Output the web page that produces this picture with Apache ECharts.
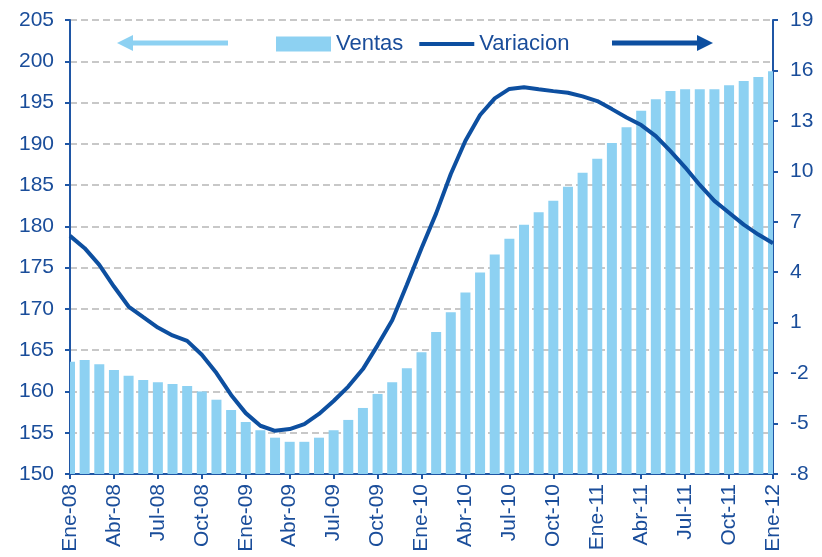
<!DOCTYPE html>
<html>
<head>
<meta charset="utf-8">
<script src="https://cdn.jsdelivr.net/npm/echarts@6/dist/echarts.min.js"></script>
<style>
html,body{margin:0;padding:0;background:#fff;}
#chart{width:822px;height:557px;}
</style>
</head>
<body>
<div id="chart"></div>
<script>
// ---- data ----
const monthNames = ['Ene','Feb','Mar','Abr','May','Jun','Jul','Ago','Sep','Oct','Nov','Dic'];
const years = ['08','09','10','11','12'];
const ventas = [163.6, 163.8, 163.3, 162.6, 161.9, 161.4, 161.1, 160.9, 160.65, 160.0,
  159.0, 157.75, 156.3, 155.3, 154.4, 153.9, 153.9, 154.4, 155.3, 156.55,
  158.0, 159.7, 161.1, 162.8, 164.75, 167.2, 169.6, 172.0, 174.4, 176.6,
  178.5, 180.2, 181.7, 183.1, 184.8, 186.5, 188.2, 190.1, 192.0, 194.0,
  195.4, 196.4, 196.6, 196.6, 196.6, 197.1, 197.6, 198.1, 198.8];
const variacion = [6.16, 5.43, 4.44, 3.15, 1.96, 1.33, 0.71, 0.24, -0.08, -0.91,
  -2.0, -3.3, -4.38, -5.13, -5.43, -5.33, -5.03, -4.43, -3.66, -2.8,
  -1.76, -0.35, 1.15, 3.25, 5.43, 7.5, 9.84, 11.82, 13.35, 14.34,
  14.9, 15.0, 14.88, 14.77, 14.67, 14.46, 14.18, 13.7, 13.2, 12.75,
  12.1, 11.2, 10.24, 9.19, 8.24, 7.54, 6.83, 6.24, 5.72];
const rightTicks = [-8, -5, -2, 1, 4, 7, 10, 13, 16, 19];

const categories = [];
for (let y = 0; y < years.length; y++) {
  for (let m = 0; m < 12; m++) {
    if (categories.length < ventas.length) categories.push(monthNames[m] + '-' + years[y]);
  }
}

const axisBlue = '#1F56A5';
const textBlue = '#1A4D9A';
const barColor = '#8DD1F2';
const lineColor = '#0D4FA0';
const font = "'Liberation Sans', Arial, sans-serif";
const LEFT_MIN = 150;

const chart = echarts.init(document.getElementById('chart'));
chart.setOption({
  animation: false,
  backgroundColor: '#fff',
  textStyle: { fontFamily: font },
  grid: { left: 70, right: 49, top: 20, bottom: 83, containLabel: false },
  legend: {
    left: 271,
    top: 28,
    itemWidth: 55,
    itemHeight: 15,
    itemGap: 16,
    textStyle: { color: textBlue, fontSize: 22, fontFamily: font },
    data: [
      { name: 'Ventas', icon: 'rect', itemStyle: { color: barColor } },
      { name: 'Variacion', icon: 'path://M0,0 H55 V4 H0 Z', itemStyle: { color: lineColor } }
    ]
  },
  xAxis: {
    type: 'category',
    data: categories,
    boundaryGap: false,
    axisLine: { onZero: false, lineStyle: { color: axisBlue, width: 2 } },
    axisTick: { show: true, interval: 2, length: 5, lineStyle: { color: axisBlue, width: 2 } },
    axisLabel: { interval: 2, rotate: 90, margin: 10, color: textBlue, fontSize: 21, fontFamily: font },
    splitLine: { show: false }
  },
  yAxis: [
    {
      type: 'value', min: LEFT_MIN, max: 205, interval: 5,
      axisLine: { show: true, lineStyle: { color: axisBlue, width: 2 } },
      axisTick: { show: true, length: 5, lineStyle: { color: axisBlue, width: 2 } },
      axisLabel: { color: textBlue, fontSize: 21, margin: 16, fontFamily: font },
      splitLine: { show: true, lineStyle: { color: '#C8C8C8', type: [7, 4], width: 2 } }
    },
    {
      type: 'value', min: -8, max: 19, position: 'right',
      axisLine: { show: true, lineStyle: { color: axisBlue, width: 2 } },
      axisTick: { show: true, length: 5, customValues: rightTicks, lineStyle: { color: axisBlue, width: 2 } },
      axisLabel: { color: textBlue, fontSize: 21, margin: 17, fontFamily: font, customValues: rightTicks },
      splitLine: { show: false }
    }
  ],
  graphic: [
    { type: 'polyline', shape: { points: [[130, 43], [228, 43]] }, style: { stroke: barColor, lineWidth: 5 } },
    { type: 'polygon', shape: { points: [[117, 43], [133, 35], [133, 51]] }, style: { fill: barColor } },
    { type: 'polyline', shape: { points: [[612, 43], [698, 43]] }, style: { stroke: lineColor, lineWidth: 5 } },
    { type: 'polygon', shape: { points: [[713, 43], [697, 35], [697, 51]] }, style: { fill: lineColor } }
  ],
  series: [
    {
      name: 'Ventas', type: 'custom', yAxisIndex: 0,
      data: ventas.map((v, i) => [i, v]),
      encode: { x: 0, y: 1 },
      clip: true,
      itemStyle: { color: barColor },
      renderItem: function (params, api) {
        const top = api.coord([api.value(0), api.value(1)]);
        const base = api.coord([api.value(0), LEFT_MIN]);
        const w = 10;
        const rect = echarts.graphic.clipRectByRect(
          { x: top[0] - w / 2, y: top[1], width: w, height: base[1] - top[1] },
          { x: params.coordSys.x, y: params.coordSys.y, width: params.coordSys.width, height: params.coordSys.height }
        );
        if (!rect) return null;
        return { type: 'rect', shape: rect, style: { fill: barColor } };
      }
    },
    {
      name: 'Variacion', type: 'line', yAxisIndex: 1, data: variacion,
      symbol: 'none', smooth: false, z: 5,
      lineStyle: { color: lineColor, width: 4 },
      itemStyle: { color: lineColor }
    }
  ]
});
</script>
</body>
</html>
